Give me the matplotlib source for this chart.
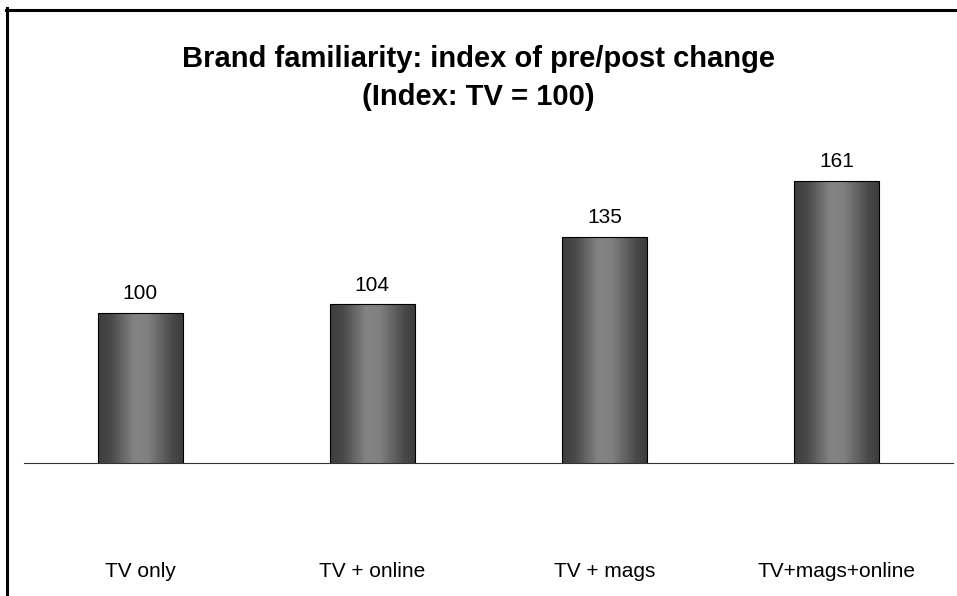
# index znamosti znacky - stlpcovy graf s valcovym tienovanim
import numpy as np
import matplotlib
matplotlib.use("Agg")
import matplotlib.pyplot as plt
from matplotlib.colors import LinearSegmentedColormap
from matplotlib.lines import Line2D

plt.rcParams["font.family"] = ["Liberation Sans", "DejaVu Sans"]

kategorie = ["TV only", "TV + online", "TV + mags", "TV+mags+online"]
hodnoty = [100, 104, 135, 161]
titulok_1 = "Brand familiarity: index of pre/post change"
titulok_2 = "(Index: TV = 100)"

Y_MIN = 30.7

fig = plt.figure(figsize=(9.57, 5.96), dpi=100)
ax = fig.add_axes([24 / 957, 1 - 463 / 596, 929 / 957, 323 / 596])

x = np.arange(len(kategorie))
bars = ax.bar(x, hodnoty, width=0.366, color="none",
              edgecolor="black", linewidth=0.8, zorder=3)

# valcovy gradient (tmave okraje, svetlejsi stred)
cmap = LinearSegmentedColormap.from_list("valec", [
    (0.0, "#3e3e3e"), (0.14, "#474747"), (0.42, "#838383"),
    (0.58, "#808080"), (0.86, "#4a4a4a"), (1.0, "#3a3a3a")])
grad = np.linspace(0, 1, 256).reshape(1, -1)
for b in bars:
    x0, w, h = b.get_x(), b.get_width(), b.get_height()
    im = ax.imshow(grad, cmap=cmap, extent=[x0, x0 + w, Y_MIN, h],
                   aspect="auto", zorder=2, interpolation="bicubic")
    im.set_clip_path(b)

ax.set_xlim(-0.5, len(kategorie) - 0.5)
ax.set_ylim(Y_MIN, 180)

for xi, v in zip(x, hodnoty):
    ax.annotate(str(v), (xi, v), xytext=(0, 10), textcoords="offset points",
                ha="center", va="baseline", fontsize=15)

ax.set_xticks(x)
ax.set_xticklabels(kategorie, fontsize=15)
ax.tick_params(axis="x", length=0, pad=71)
ax.set_yticks([])
for s in ["left", "right", "top"]:
    ax.spines[s].set_visible(False)
ax.spines["bottom"].set_color("#333333")
ax.spines["bottom"].set_linewidth(0.8)
ax.spines["bottom"].set_zorder(4)

fig.text(0.5, 1 - 67 / 596, titulok_1, ha="center", va="baseline",
         fontsize=21, fontweight="bold")
fig.text(0.5, 1 - 105 / 596, titulok_2, ha="center", va="baseline",
         fontsize=21, fontweight="bold")

# ramik grafu (lavy a horny okraj)
fig.add_artist(Line2D([7.5 / 957, 7.5 / 957], [0, 1 - 8 / 596],
                      color="black", linewidth=2.2, transform=fig.transFigure))
fig.add_artist(Line2D([6 / 957, 1], [1 - 9.5 / 596, 1 - 9.5 / 596],
                      color="black", linewidth=2.2, transform=fig.transFigure))

fig.savefig("out.png", dpi=100)
